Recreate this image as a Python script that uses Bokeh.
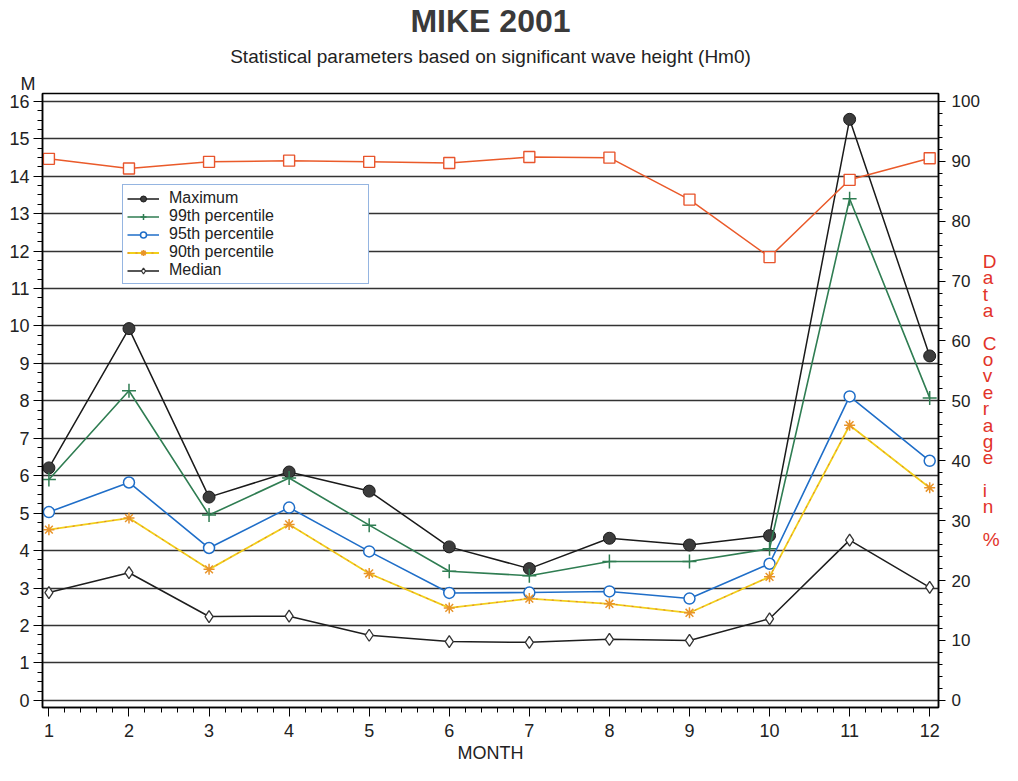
from bokeh.plotting import figure
from bokeh.models import Range1d, LinearAxis, FixedTicker, Legend, LegendItem, Title
from bokeh.embed import file_html
from bokeh.resources import INLINE

months = list(range(1, 13))
maximum = [6.21, 9.93, 5.43, 6.10, 5.59, 4.10, 3.52, 4.33, 4.15, 4.40, 15.52, 9.20]
p99 = [5.90, 8.27, 4.95, 5.94, 4.68, 3.45, 3.33, 3.71, 3.71, 4.05, 13.40, 8.08]
p95 = [5.03, 5.82, 4.07, 5.15, 3.98, 2.87, 2.88, 2.91, 2.72, 3.65, 8.12, 6.40]
p90 = [4.56, 4.87, 3.50, 4.70, 3.39, 2.47, 2.72, 2.58, 2.34, 3.30, 7.35, 5.68]
median = [2.88, 3.41, 2.24, 2.25, 1.74, 1.57, 1.55, 1.63, 1.60, 2.18, 4.28, 3.02]
coverage = [90.4, 88.8, 89.9, 90.1, 89.9, 89.7, 90.7, 90.6, 83.6, 74.0, 86.9, 90.5]

left_ticks = list(range(0, 17))
right_ticks = list(range(0, 101, 10))

FONT = "Liberation Sans"
TXT = "#222222"

p = figure(width=1002, height=765, output_backend="svg", toolbar_location=None,
           x_range=Range1d(0.92, 12.11), y_range=Range1d(-0.19, 16.21),
           min_border_left=42, min_border_right=61, min_border_top=93, min_border_bottom=57,
           background_fill_color="white", border_fill_color="white")
p.extra_y_ranges = {"cov": Range1d(-0.19 * 6.25, 16.21 * 6.25)}

p.outline_line_color = "black"
p.outline_line_width = 1.5
p.xgrid.visible = False
p.ygrid.ticker = FixedTicker(ticks=left_ticks)
p.ygrid.grid_line_color = "#333333"
p.ygrid.grid_line_width = 1.7

ya = p.yaxis[0]
ya.ticker = FixedTicker(ticks=left_ticks, minor_ticks=[i * 0.25 for i in range(65)])
for ax in [ya, p.xaxis[0]]:
    ax.axis_line_color = "black"
    ax.axis_line_width = 1.5
    ax.major_tick_in = 0
    ax.minor_tick_in = 0
    ax.major_tick_out = 9
    ax.minor_tick_out = 5
    ax.major_tick_line_color = "black"
    ax.minor_tick_line_color = "black"
    ax.major_label_text_font = FONT
    ax.major_label_text_font_size = "18px"
    ax.major_label_text_color = TXT
ya.major_label_standoff = 4

xa = p.xaxis[0]
xa.ticker = FixedTicker(ticks=months, minor_ticks=[1 + 0.2 * i for i in range(56)])
xa.major_label_standoff = 7
xa.axis_label = "MONTH"
xa.axis_label_text_font = FONT
xa.axis_label_text_font_size = "18px"
xa.axis_label_text_font_style = "normal"
xa.axis_label_text_color = TXT
xa.axis_label_standoff = 3

ra = LinearAxis(y_range_name="cov",
                ticker=FixedTicker(ticks=right_ticks, minor_ticks=list(range(0, 101, 2))))
ra.axis_line_color = "black"
ra.axis_line_width = 1.5
ra.major_tick_in = 0
ra.minor_tick_in = 0
ra.major_tick_out = 7
ra.minor_tick_out = 4
ra.major_label_text_font = FONT
ra.major_label_text_font_size = "17px"
ra.major_label_text_color = TXT
ra.major_label_standoff = 6
ra.axis_label = "D\na\nt\na\n \nC\no\nv\ne\nr\na\ng\ne\n \ni\nn\n \n%"
ra.axis_label_orientation = "horizontal"
ra.axis_label_text_font = FONT
ra.axis_label_text_font_size = "19px"
ra.axis_label_text_font_style = "normal"
ra.axis_label_text_color = "#e2332a"
ra.axis_label_text_line_height = 0.78
ra.axis_label_standoff = 0
p.add_layout(ra, "right")

l_max = p.line(months, maximum, line_color="#1a1a1a", line_width=1.5)
s_max = p.scatter(months, maximum, marker="circle", size=12, fill_color="#3c3c3c", line_color="#1a1a1a")
l_99 = p.line(months, p99, line_color="#2f7d52", line_width=1.6)
s_99 = p.scatter(months, p99, marker="cross", size=14, line_color="#2f7d52", line_width=1.5)
l_95 = p.line(months, p95, line_color="#1f6ec8", line_width=1.6)
s_95 = p.scatter(months, p95, marker="circle", size=11, fill_color="white", line_color="#1f6ec8", line_width=1.5)
l_90 = p.line(months, p90, line_color="#f2d01a", line_width=1.8)
l_90d = p.line(months, p90, line_color="#d9673a", line_width=0.8, line_dash="2 6")
s_90 = p.scatter(months, p90, marker="asterisk", size=11, line_color="#e8942a", line_width=1.5)
l_med = p.line(months, median, line_color="#1e1e1e", line_width=1.5)
s_med = p.scatter(months, median, marker="diamond", size=12, fill_color="white", line_color="#333333", line_width=1.3)
l_cov = p.line(months, coverage, line_color="#ea5a2a", line_width=1.5, y_range_name="cov")
s_cov = p.scatter(months, coverage, marker="square", size=11, fill_color="white", line_color="#e8552d",
                  line_width=1.4, y_range_name="cov")

legend = Legend(items=[
    LegendItem(label="Maximum", renderers=[l_max, s_max]),
    LegendItem(label="99th percentile", renderers=[l_99, s_99]),
    LegendItem(label="95th percentile", renderers=[l_95, s_95]),
    LegendItem(label="90th percentile", renderers=[l_90, l_90d, s_90]),
    LegendItem(label="Median", renderers=[l_med, s_med]),
], location=(80, 423))
legend.border_line_color = "#2b6cc4"
legend.border_line_width = 1.5
legend.background_fill_color = "white"
legend.background_fill_alpha = 1
legend.label_text_font = FONT
legend.label_text_font_size = "16px"
legend.label_text_line_height = 0.85
legend.label_text_color = TXT
legend.label_height = 15
legend.glyph_height = 15
legend.glyph_width = 32
legend.label_standoff = 10
legend.label_width = 195
legend.spacing = 0
legend.padding = 4
legend.margin = 0
p.add_layout(legend)

unit = Title(text="M", align="left", offset=-22, text_font=FONT, text_font_size="18px",
             text_font_style="normal", text_color=TXT, standoff=0)
p.add_layout(unit, "above")
sub = Title(text="Statistical parameters based on significant wave height (Hm0)", align="center",
            text_font=FONT, text_font_size="19px", text_font_style="normal", text_color=TXT, standoff=10)
p.add_layout(sub, "above")
main = Title(text="MIKE 2001", align="center", text_font=FONT, text_font_size="32px",
             text_font_style="bold", text_color="#3a3a3a", standoff=0)
p.add_layout(main, "above")

open("out.html", "w").write(file_html(p, INLINE))
